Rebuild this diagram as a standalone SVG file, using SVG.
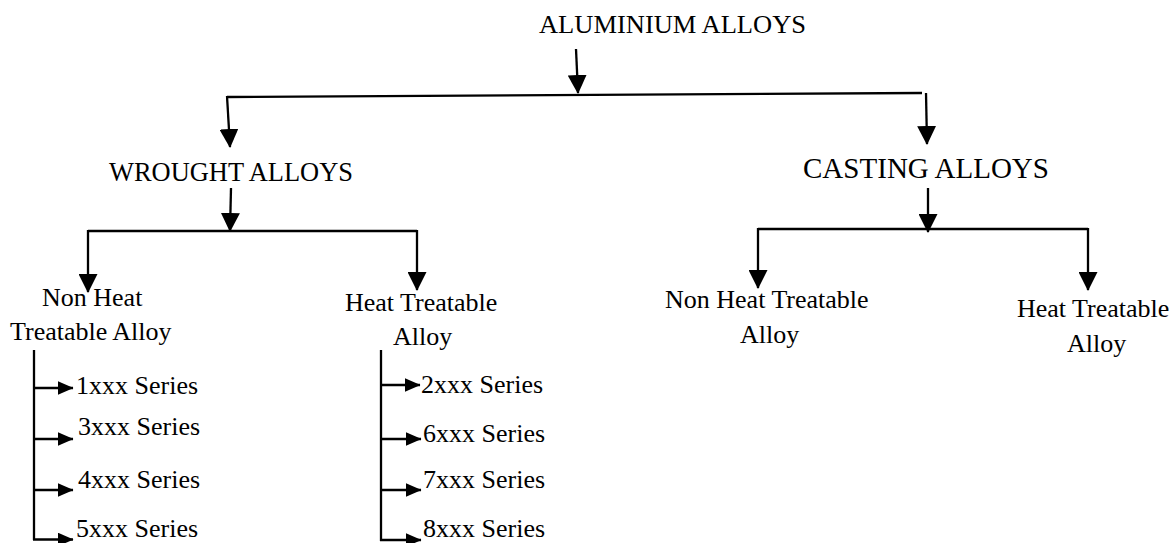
<svg xmlns="http://www.w3.org/2000/svg" width="1176" height="543" viewBox="0 0 1176 543">
  <style>
    text { font-family: "Liberation Serif", "Times New Roman", serif; font-size: 26px; fill: #000; }
    .big { font-size: 29px; }
    .conn line { stroke: #000; stroke-width: 2.3; fill: none; }
  </style>
  <defs>
    <marker id="ah" markerUnits="userSpaceOnUse" markerWidth="19" markerHeight="19" viewBox="0 0 19 19" refX="18" refY="9.5" orient="auto">
      <path d="M0,0 L19,9.5 L0,19 Z" fill="#000"/>
    </marker>
    <marker id="as" markerUnits="userSpaceOnUse" markerWidth="16" markerHeight="14" viewBox="0 0 16 14" refX="15.5" refY="7" orient="auto">
      <path d="M0,0 L16,7 L0,14 Z" fill="#000"/>
    </marker>
  </defs>
  <rect width="1176" height="543" fill="#fff"/>

  <g id="connectors" class="conn">
    <!-- top level -->
    <line x1="576" y1="49" x2="578" y2="93" marker-end="url(#ah)"/>
    <line x1="227" y1="97" x2="922" y2="93"/>
    <line x1="227" y1="96" x2="230" y2="147" marker-end="url(#ah)"/>
    <line x1="926" y1="93" x2="927" y2="144" marker-end="url(#ah)"/>
    <!-- wrought -->
    <line x1="231" y1="188" x2="230" y2="231" marker-end="url(#ah)"/>
    <line x1="88" y1="231" x2="417" y2="231"/>
    <line x1="88" y1="230" x2="88" y2="292" marker-end="url(#ah)"/>
    <line x1="417" y1="230" x2="417" y2="290" marker-end="url(#ah)"/>
    <!-- casting -->
    <line x1="928" y1="188" x2="928" y2="232" marker-end="url(#ah)"/>
    <line x1="758" y1="229" x2="1088" y2="229"/>
    <line x1="758" y1="228" x2="758" y2="288" marker-end="url(#ah)"/>
    <line x1="1088" y1="228" x2="1088" y2="290" marker-end="url(#ah)"/>
    <!-- non heat treatable series -->
    <line x1="34" y1="350" x2="34" y2="540"/>
    <line x1="33" y1="388" x2="73" y2="388" marker-end="url(#as)"/>
    <line x1="33" y1="439" x2="73" y2="439" marker-end="url(#as)"/>
    <line x1="33" y1="490" x2="73" y2="490" marker-end="url(#as)"/>
    <line x1="33" y1="539.5" x2="73" y2="539.5" marker-end="url(#as)"/>
    <!-- heat treatable series -->
    <line x1="381" y1="350" x2="381" y2="541"/>
    <line x1="380" y1="385" x2="420" y2="385" marker-end="url(#as)"/>
    <line x1="380" y1="439" x2="421" y2="439" marker-end="url(#as)"/>
    <line x1="380" y1="490" x2="421" y2="490" marker-end="url(#as)"/>
    <line x1="380" y1="540" x2="421" y2="540" marker-end="url(#as)"/>
  </g>

  <g id="aluminium-alloys"><text x="539" y="33" textLength="267" lengthAdjust="spacingAndGlyphs">ALUMINIUM ALLOYS</text></g>
  <g id="wrought-alloys"><text x="109" y="181" textLength="244" lengthAdjust="spacingAndGlyphs" style="font-size:27px">WROUGHT ALLOYS</text></g>
  <g id="casting-alloys"><text class="big" x="803" y="178" textLength="246" lengthAdjust="spacingAndGlyphs">CASTING ALLOYS</text></g>

  <g id="wrought-non-heat">
    <text x="42" y="306">Non Heat</text>
    <text x="10" y="340">Treatable Alloy</text>
  </g>
  <g id="wrought-heat">
    <text x="345" y="311">Heat Treatable</text>
    <text x="393" y="345">Alloy</text>
  </g>
  <g id="casting-non-heat">
    <text x="665" y="308">Non Heat Treatable</text>
    <text x="740" y="343">Alloy</text>
  </g>
  <g id="casting-heat">
    <text x="1017" y="317">Heat Treatable</text>
    <text x="1067" y="352">Alloy</text>
  </g>

  <g id="s1xxx"><text x="76" y="394">1xxx Series</text></g>
  <g id="s3xxx"><text x="78" y="435">3xxx Series</text></g>
  <g id="s4xxx"><text x="78" y="488">4xxx Series</text></g>
  <g id="s5xxx"><text x="76" y="537">5xxx Series</text></g>
  <g id="s2xxx"><text x="421" y="393">2xxx Series</text></g>
  <g id="s6xxx"><text x="423" y="442">6xxx Series</text></g>
  <g id="s7xxx"><text x="423" y="488">7xxx Series</text></g>
  <g id="s8xxx"><text x="423" y="537">8xxx Series</text></g>
</svg>
